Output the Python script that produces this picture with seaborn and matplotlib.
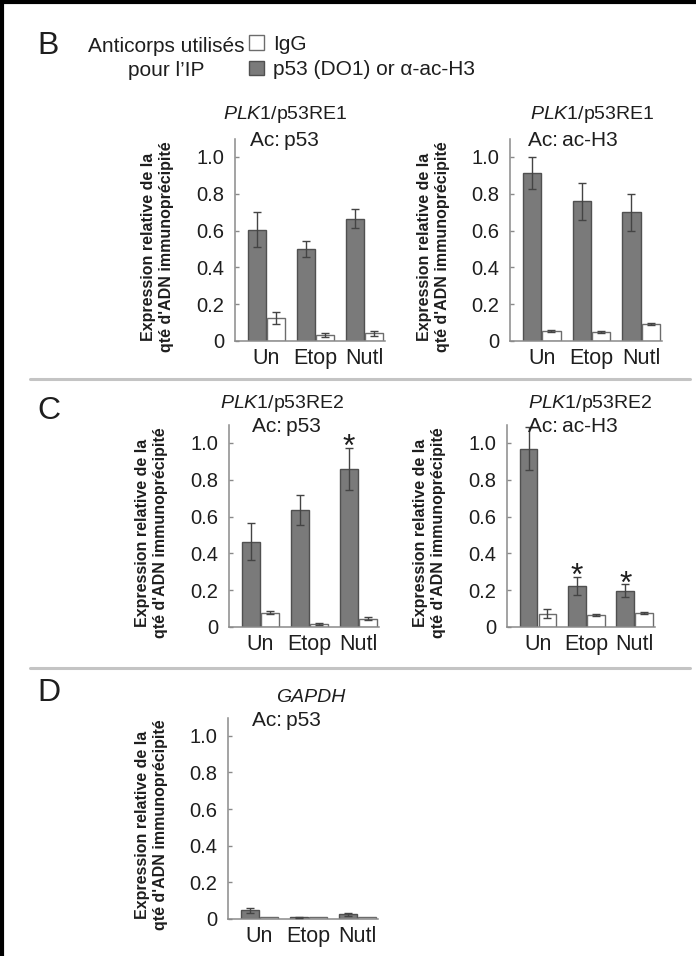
import matplotlib
matplotlib.use("Agg")
import matplotlib.pyplot as plt
import seaborn as sns
import pandas as pd
from matplotlib.lines import Line2D
from matplotlib.patches import Patch

# ---------------- data ----------------
conditions = ["Un", "Etop", "Nutl"]
antibodies = ["p53", "IgG"]
yticks = [0, 0.2, 0.4, 0.6, 0.8, 1.0]
ytick_labels = ["0", "0.2", "0.4", "0.6", "0.8", "1.0"]

# B left : PLK1/p53RE1, Ac: p53
b1_ip = [0.605, 0.50, 0.665]
b1_ip_err = [0.095, 0.046, 0.05]
b1_igg = [0.123, 0.032, 0.042]
b1_igg_err = [0.033, 0.012, 0.015]

# B right : PLK1/p53RE1, Ac: ac-H3
b2_ip = [0.913, 0.76, 0.70]
b2_ip_err = [0.085, 0.10, 0.10]
b2_igg = [0.054, 0.047, 0.092]
b2_igg_err = [0.005, 0.005, 0.004]

# C left : PLK1/p53RE2, Ac: p53
c1_ip = [0.464, 0.636, 0.86]
c1_ip_err = [0.10, 0.08, 0.115]
c1_igg = [0.078, 0.018, 0.045]
c1_igg_err = [0.01, 0.005, 0.008]
c1_stars = [False, False, True]

# C right : PLK1/p53RE2, Ac: ac-H3
c2_ip = [0.969, 0.224, 0.196]
c2_ip_err = [0.118, 0.05, 0.035]
c2_igg = [0.073, 0.067, 0.076]
c2_igg_err = [0.023, 0.005, 0.005]
c2_stars = [False, True, True]

# D : GAPDH, Ac: p53
d_ip = [0.047, 0.009, 0.027]
d_ip_err = [0.015, 0.002, 0.008]
d_igg = [0.013, 0.01, 0.012]
d_igg_err = [0.0, 0.0, 0.0]

ylabel_text = "Expression relative de la\nqté d'ADN immunoprécipité"

# ---------------- style ----------------
sns.set_theme(style="white")
FONT = ["Liberation Sans", "DejaVu Sans"]
plt.rcParams["font.family"] = FONT
plt.rcParams["mathtext.fontset"] = "custom"
plt.rcParams["mathtext.rm"] = "Liberation Sans"
plt.rcParams["mathtext.it"] = "Liberation Sans:italic"

GRAY = "#7a7a7a"
GRAY_EDGE = "#505050"
WHITE_EDGE = "#6c6c6c"
SPINE = "#8a8a8a"
TXT = "#1e1e1e"

W, H = 696, 956
fig = plt.figure(figsize=(W / 100, H / 100), dpi=100)
fig.patch.set_facecolor("white")


def fx(x):
    return x / W


def fy(y):
    return 1 - y / H


def make_ax(x0, x1, ytop, ybot):
    return fig.add_axes([fx(x0), fy(ybot), (x1 - x0) / W, (ybot - ytop) / H])


def draw(ax, ip, ip_err, igg, igg_err, stars=None):
    df = pd.DataFrame({
        "cond": conditions * 2,
        "ab": [antibodies[0]] * 3 + [antibodies[1]] * 3,
        "val": ip + igg,
    })
    sns.barplot(data=df, x="cond", y="val", hue="ab", order=conditions,
                hue_order=antibodies, palette={"p53": GRAY, "IgG": "white"},
                width=0.78, gap=0.06, errorbar=None, legend=False, ax=ax,
                linewidth=1.0, edgecolor=GRAY_EDGE)
    bars = sorted(ax.patches, key=lambda p: p.get_x())
    errs = []
    for i in range(3):
        errs += [ip_err[i], igg_err[i]]
    for k, p in enumerate(bars):
        if k % 2 == 1:
            p.set_edgecolor(WHITE_EDGE)
        xc = p.get_x() + p.get_width() / 2
        h = p.get_height()
        if errs[k] > 0:
            ax.errorbar(xc, h, yerr=errs[k], fmt="none", ecolor="#444444",
                        elinewidth=1.0, capsize=3, capthick=1.0, zorder=5)
        if stars is not None and k % 2 == 0 and stars[k // 2]:
            ax.text(xc, h + errs[k] - 0.045, "*", ha="center", va="baseline",
                    fontsize=23, color=TXT)
    ax.set_xlim(-0.64, 2.42)
    ax.set_ylim(0, 1.1)
    ax.set_yticks(yticks)
    ax.set_yticklabels(ytick_labels)
    ax.set_xlabel("")
    ax.set_ylabel(ylabel_text, fontsize=11.5, fontweight="bold", color=TXT,
                  linespacing=1.25)
    ax.yaxis.label.set_rotation_mode("default")
    ax.yaxis.label.set_va("center")
    ax.yaxis.label.set_ha("center")
    ax.yaxis.label.set_multialignment("center")
    width_px = ax.get_position().width * W
    ax.yaxis.set_label_coords(-77 / width_px, 0.467)
    for s in ["top", "right"]:
        ax.spines[s].set_visible(False)
    for s in ["left", "bottom"]:
        ax.spines[s].set_color(SPINE)
        ax.spines[s].set_linewidth(1.1)
    ax.tick_params(axis="y", direction="in", length=3, width=1, color=SPINE,
                   labelsize=14.5, pad=8, labelcolor=TXT, left=True)
    ax.tick_params(axis="x", length=0, labelsize=15.5, pad=5, labelcolor=TXT)
    ax.set_facecolor("none")


# ---------------- panels ----------------
axB1 = make_ax(235, 385, 138.6, 341)
draw(axB1, b1_ip, b1_ip_err, b1_igg, b1_igg_err)
axB2 = make_ax(510, 662, 138.6, 341)
draw(axB2, b2_ip, b2_ip_err, b2_igg, b2_igg_err)
axC1 = make_ax(229, 379, 424.6, 627)
draw(axC1, c1_ip, c1_ip_err, c1_igg, c1_igg_err, c1_stars)
axC2 = make_ax(507, 655, 424.6, 627)
draw(axC2, c2_ip, c2_ip_err, c2_igg, c2_igg_err, c2_stars)
axD = make_ax(228, 378, 717.5, 919)
draw(axD, d_ip, d_ip_err, d_igg, d_igg_err)

# titles and antibody notes
def ftext(x, y, s, **kw):
    kw.setdefault("fontsize", 14)
    kw.setdefault("color", TXT)
    kw.setdefault("va", "center")
    fig.text(fx(x), fy(y), s, **kw)

ftext(285, 114, r"$\mathit{PLK1}$/p53RE1", ha="center")
ftext(592, 114, r"$\mathit{PLK1}$/p53RE1", ha="center")
ftext(250, 140, "Ac:\u2009p53", ha="left", fontsize=15)
ftext(528, 140, "Ac:\u2009ac-H3", ha="left", fontsize=15)
ftext(282, 403, r"$\mathit{PLK1}$/p53RE2", ha="center")
ftext(590, 403, r"$\mathit{PLK1}$/p53RE2", ha="center")
ftext(252, 426, "Ac:\u2009p53", ha="left", fontsize=15)
ftext(528, 426, "Ac:\u2009ac-H3", ha="left", fontsize=15)
ftext(311, 697, "GAPDH", ha="center", style="italic")
ftext(252, 720, "Ac:\u2009p53", ha="left", fontsize=15)

# panel letters
ftext(37, 46, "B", ha="left", fontsize=23)
ftext(37, 411, "C", ha="left", fontsize=23)
ftext(37, 693, "D", ha="left", fontsize=23)

# legend
ftext(245, 46, "Anticorps utilisés", ha="right", fontsize=15)
ftext(128, 70, "pour l\u2019IP", ha="left", fontsize=15)
handles = [Patch(facecolor="white", edgecolor=WHITE_EDGE, linewidth=1),
           Patch(facecolor=GRAY, edgecolor=GRAY_EDGE, linewidth=1)]
fig.legend(handles, ["IgG", "p53 (DO1) or \u03b1-ac-H3"], loc="upper left",
           bbox_to_anchor=(fx(249), fy(35)), frameon=False, fontsize=15,
           handlelength=0.72, handleheight=0.72, handletextpad=0.45,
           labelspacing=0.3, borderpad=0, borderaxespad=0,
           labelcolor=TXT)

# separators and border
for yy in [379, 668]:
    fig.add_artist(Line2D([fx(30), fx(690)], [fy(yy), fy(yy)],
                          color="#c4c4c4", linewidth=2.2))
fig.add_artist(Line2D([0, 1], [fy(1.5), fy(1.5)], color="black", linewidth=3))
fig.add_artist(Line2D([fx(2), fx(2)], [0, 1], color="black", linewidth=3))

fig.savefig("out.png", dpi=100, facecolor="white")
